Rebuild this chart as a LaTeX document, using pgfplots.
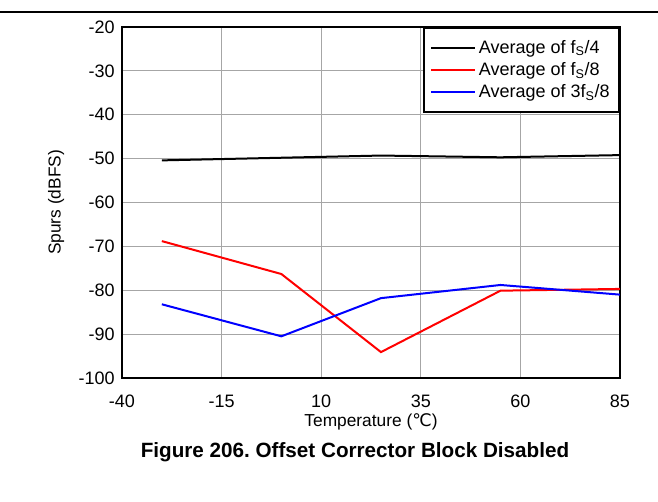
\documentclass[border=0pt]{standalone}
\usepackage{fontspec}
\setmainfont{Liberation Sans}
\newfontfamily\dejavu{DejaVu Sans}
\usepackage{pgfplots}
\pgfplotsset{compat=1.18}
\frenchspacing
\begin{document}
\begin{tikzpicture}[x=0.75pt,y=0.75pt]
\path[use as bounding box] (0,0) rectangle (658,502);
\draw[line width=1.1pt] (0,490) -- (658,490);
\begin{axis}[
  at={(122*0.75pt,124*0.75pt)}, anchor=south west,
  scale only axis, width=498*0.75pt, height=351*0.75pt,
  xmin=-40, xmax=85, ymin=-100, ymax=-20,
  xtick={-40,-15,10,35,60,85}, ytick={-100,-90,...,-20},
  grid=major, major grid style={gray!70, line width=0.6pt},
  axis line style={line width=1.5pt},
  tick style={draw=none},
  /pgf/number format/assume math mode=true,
  ticklabel style={font=\fontsize{13.5}{15}\selectfont},
  xticklabel style={yshift=-9pt},
  yticklabel style={xshift=-2pt},
  xlabel={Temperature ({\dejavu ℃})},
  ylabel={Spurs (dBFS)},
  label style={font=\fontsize{13}{15}\selectfont},
  xlabel style={yshift=2pt},
  ylabel style={yshift=4pt},
  legend style={at={(rel axis cs:1,1)}, anchor=north east, draw=black, line width=1.5pt,
    font=\fontsize{13.5}{15}\selectfont, row sep=1.5pt, inner xsep=5pt, inner ysep=7pt},
  legend cell align=left,
  legend image code/.code={\draw[#1, line width=1.5pt] (0pt,0pt) -- (26pt,0pt); \path (0pt,0pt) -- (33pt,0pt);},
]
\addplot[black, line width=1.5pt] coordinates {(-30,-50.4) (0,-49.8) (25,-49.3) (55,-49.7) (85,-49.2)};
\addlegendentry{Average of f\textsubscript{S}/4}
\addplot[red, line width=1.5pt] coordinates {(-30,-68.8) (0,-76.3) (25,-94.1) (55,-80.1) (85,-79.7)};
\addlegendentry{Average of f\textsubscript{S}/8}
\addplot[blue, line width=1.5pt] coordinates {(-30,-83.2) (0,-90.5) (25,-81.8) (55,-78.8) (85,-81.0)};
\addlegendentry{Average of 3f\textsubscript{S}/8}
\end{axis}
\node[font=\bfseries\fontsize{15.5}{17}\selectfont] at (355,50) {Figure 206. Offset Corrector Block Disabled};
\end{tikzpicture}
\end{document}
